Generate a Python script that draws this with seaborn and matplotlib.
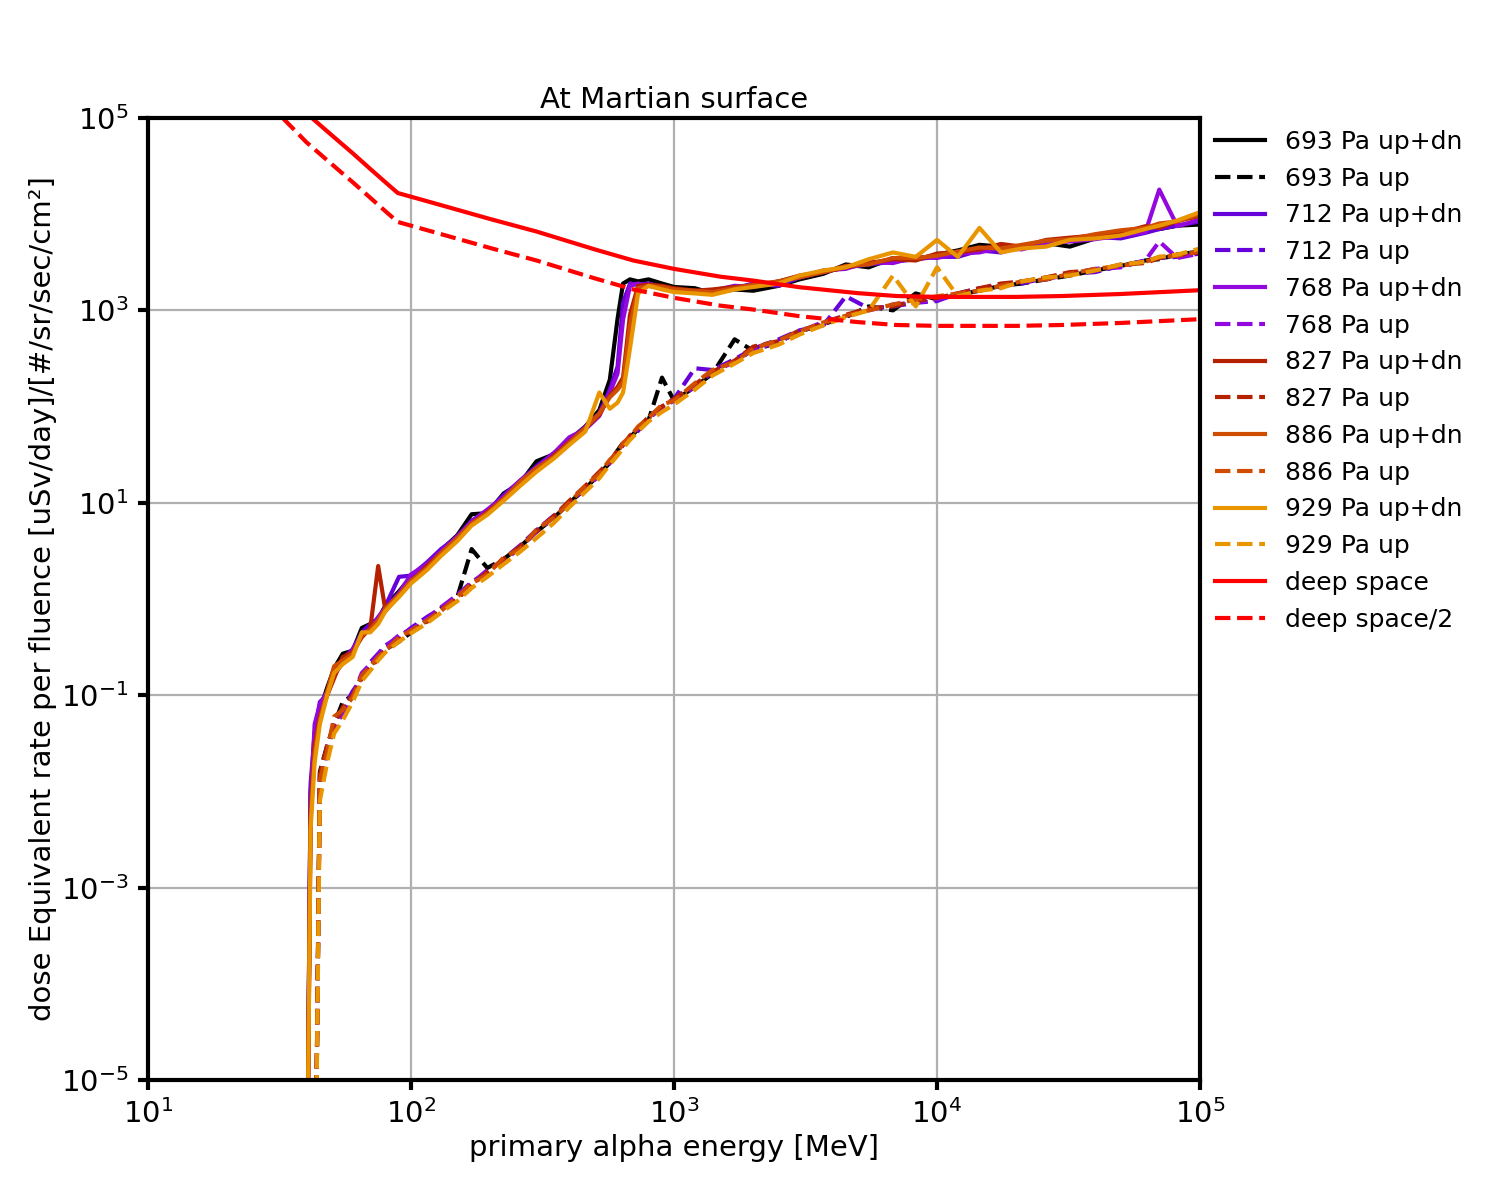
import numpy as np
import matplotlib
matplotlib.use("Agg")
import matplotlib.pyplot as plt
import seaborn as sns

# ---------------- data ----------------
energy = [40, 41.5, 43, 45, 48, 51, 55, 60, 65, 70, 75, 80, 90, 100, 115, 130, 150, 170, 195, 225,
          260, 300, 350, 400, 460, 520, 570, 610, 640, 680, 730, 800, 900, 1000, 1200, 1400, 1700,
          2000, 2500, 3000, 3700, 4500, 5500, 6800, 8300, 1e4, 1.2e4, 1.45e4, 1.75e4, 2.1e4, 2.6e4,
          3.2e4, 4e4, 5e4, 6.2e4, 7e4, 8.2e4, 1e5]

p693_updn = [1e-7, 1.0e-2, 3.0e-2, 7.0e-2, 0.12, 0.19, 0.27, 0.29, 0.5, 0.55, 0.62, 0.85, 1.2, 1.7,
             2.3, 3.2, 4.6, 7.6, 7.8, 12.5, 16, 27, 32, 45, 62, 92, 190, 820, 1.9e3, 2.1e3, 2.0e3,
             2.1e3, 1.9e3, 1.75e3, 1.7e3, 1.5e3, 1.65e3, 1.6e3, 1.8e3, 2.1e3, 2.4e3, 3.0e3, 2.8e3,
             3.5e3, 3.4e3, 3.8e3, 4.2e3, 4.8e3, 4.6e3, 4.5e3, 5.0e3, 4.6e3, 5.6e3, 6.3e3, 6.9e3,
             7.0e3, 7.6e3, 7.8e3]
p693_up = [1e-7, 1e-7, 1e-7, 1.6e-2, 3.0e-2, 5.0e-2, 8.5e-2, 0.1, 0.16, 0.2, 0.25, 0.3, 0.36, 0.45,
           0.6, 0.8, 1.05, 3.3, 2.1, 2.6, 3.5, 5.0, 7.0, 10, 14, 20, 26, 35, 42, 48, 58, 72, 200, 115,
           160, 220, 500, 380, 470, 600, 720, 850, 1.1e3, 1.0e3, 1.5e3, 1.3e3, 1.45e3, 1.6e3, 1.8e3,
           1.9e3, 2.1e3, 2.3e3, 2.6e3, 2.9e3, 3.3e3, 3.4e3, 3.8e3, 4.1e3]
p712_updn = [1e-7, 1.2e-2, 4e-2, 8.5e-2, 0.1, 0.17, 0.24, 0.3, 0.45, 0.55, 0.62, 0.85, 1.7, 1.75,
             2.4, 3.3, 4.4, 6.5, 8.2, 12, 17, 24, 33, 44, 62, 85, 150, 260, 1.2e3, 1.9e3, 1.85e3,
             1.9e3, 1.75e3, 1.6e3, 1.6e3, 1.55e3, 1.7e3, 1.9e3, 1.8e3, 2.2e3, 2.5e3, 2.8e3, 3.0e3,
             3.2e3, 3.4e3, 3.6e3, 3.6e3, 4.2e3, 4.0e3, 4.6e3, 4.8e3, 5.4e3, 5.8e3, 5.6e3, 6.4e3,
             7.0e3, 7.6e3, 8.4e3]
p712_up = [1e-7, 1e-7, 1e-7, 1.2e-2, 2.5e-2, 5.5e-2, 7e-2, 0.11, 0.15, 0.22, 0.27, 0.33, 0.4, 0.5,
           0.65, 0.8, 1.1, 1.5, 1.9, 2.6, 3.6, 5.2, 7.4, 10, 14, 20, 27, 33, 40, 47, 56, 75, 100, 120,
           250, 240, 310, 400, 500, 620, 700, 1.4e3, 1.05e3, 1.1e3, 1.2e3, 1.25e3, 1.5e3, 1.7e3,
           1.8e3, 1.9e3, 2.2e3, 2.4e3, 2.5e3, 2.9e3, 3.3e3, 3.5e3, 3.6e3, 3.9e3]
p768_updn = [1e-7, 8e-3, 5e-2, 8e-2, 0.11, 0.16, 0.22, 0.3, 0.42, 0.5, 0.65, 0.8, 1.15, 1.8, 2.3,
             3.1, 4.5, 6.4, 8.5, 11.5, 17, 23, 33, 48, 58, 80, 140, 220, 800, 1.8e3, 1.9e3, 1.8e3,
             1.7e3, 1.65e3, 1.55e3, 1.6e3, 1.8e3, 1.75e3, 2.0e3, 2.2e3, 2.6e3, 2.7e3, 3.2e3, 3.1e3,
             3.6e3, 3.5e3, 3.9e3, 4.0e3, 4.5e3, 4.3e3, 5.0e3, 5.2e3, 5.5e3, 6.0e3, 6.5e3, 1.8e4,
             7.5e3, 8.8e3]
p768_up = [1e-7, 1e-7, 1e-7, 1.4e-2, 2.8e-2, 4.5e-2, 6.5e-2, 0.1, 0.17, 0.21, 0.26, 0.32, 0.42,
           0.48, 0.62, 0.82, 1.1, 1.45, 2.0, 2.5, 3.4, 5.0, 7.2, 10, 14.5, 19, 26, 33, 41, 48, 60,
           75, 98, 115, 160, 230, 290, 390, 470, 600, 760, 880, 1.0e3, 1.15e3, 1.2e3, 1.3e3,
           1.45e3, 1.65e3, 1.75e3, 2.0e3, 2.1e3, 2.4e3, 2.7e3, 2.8e3, 3.3e3, 5.2e3, 3.5e3, 3.9e3]
p827_updn = [1e-7, 6e-3, 3e-2, 6e-2, 0.1, 0.15, 0.25, 0.28, 0.4, 0.5, 2.2, 0.75, 1.1, 1.5, 2.2,
             3.0, 4.2, 6.0, 8.0, 11, 16, 22, 31, 43, 60, 82, 130, 160, 200, 900, 1.8e3, 1.85e3,
             1.8e3, 1.7e3, 1.6e3, 1.65e3, 1.75e3, 1.8e3, 2.0e3, 2.3e3, 2.5e3, 2.8e3, 3.1e3, 3.4e3,
             3.3e3, 3.9e3, 4.0e3, 4.3e3, 4.9e3, 4.6e3, 5.4e3, 5.7e3, 6.0e3, 6.4e3, 7.5e3, 7.2e3,
             8.5e3, 9.6e3]
p827_up = [1e-7, 1e-7, 1e-7, 1.5e-2, 3e-2, 5e-2, 7.5e-2, 0.1, 0.15, 0.19, 0.24, 0.3, 0.38, 0.46,
           0.58, 0.78, 1.0, 1.4, 1.9, 2.6, 3.5, 5.1, 7.3, 10.5, 15, 21, 27, 35, 40, 50, 60, 78, 100,
           120, 170, 230, 300, 420, 480, 620, 720, 900, 1.05e3, 1.1e3, 1.25e3, 1.35e3, 1.5e3,
           1.7e3, 1.9e3, 2.0e3, 2.2e3, 2.5e3, 2.6e3, 3.0e3, 3.1e3, 3.5e3, 3.8e3, 4.0e3]
p886_updn = [1e-7, 5e-3, 2.5e-2, 5.5e-2, 0.11, 0.2, 0.23, 0.27, 0.42, 0.48, 0.6, 0.8, 1.1, 1.55,
             2.1, 3.0, 4.3, 6.1, 7.8, 11, 16.5, 23, 30, 42, 60, 85, 125, 150, 180, 700, 1.7e3,
             1.8e3, 1.75e3, 1.65e3, 1.6e3, 1.55e3, 1.7e3, 1.85e3, 2.0e3, 2.2e3, 2.5e3, 2.9e3,
             3.0e3, 3.5e3, 3.5e3, 3.7e3, 4.1e3, 4.5e3, 4.4e3, 4.8e3, 5.3e3, 5.5e3, 6.2e3, 6.8e3,
             7.2e3, 8.0e3, 8.4e3, 1.0e4]
p886_up = [1e-7, 1e-7, 1e-7, 1.3e-2, 2.6e-2, 6e-2, 7e-2, 0.095, 0.16, 0.2, 0.25, 0.29, 0.4, 0.47,
           0.6, 0.75, 1.05, 1.45, 1.8, 2.7, 3.3, 5.3, 7.0, 10, 15, 20, 28, 33, 42, 48, 62, 76, 105,
           115, 175, 240, 290, 400, 490, 600, 750, 880, 1.0e3, 1.15e3, 1.3e3, 1.4e3, 1.5e3, 1.6e3,
           1.8e3, 2.0e3, 2.1e3, 2.4e3, 2.7e3, 2.9e3, 3.2e3, 3.6e3, 3.7e3, 4.1e3]
p929_updn = [1e-7, 4e-3, 2e-2, 5e-2, 0.1, 0.17, 0.21, 0.25, 0.45, 0.45, 0.55, 0.75, 1.05, 1.45, 2.0,
             2.8, 4.0, 5.8, 7.5, 10.5, 15, 21, 29, 40, 55, 140, 95, 110, 140, 400, 1.5e3, 1.8e3,
             1.65e3, 1.55e3, 1.5e3, 1.45e3, 1.65e3, 1.75e3, 1.9e3, 2.3e3, 2.6e3, 2.8e3, 3.4e3,
             4.0e3, 3.6e3, 5.4e3, 3.6e3, 7.2e3, 4.0e3, 4.4e3, 4.6e3, 5.4e3, 5.6e3, 6.0e3, 7.0e3,
             7.6e3, 8.6e3, 1.05e4]
p929_up = [1e-7, 1e-7, 1e-7, 8e-3, 2e-2, 4e-2, 5.5e-2, 0.085, 0.14, 0.18, 0.23, 0.28, 0.36, 0.44,
           0.56, 0.72, 0.95, 1.3, 1.7, 2.3, 3.1, 4.3, 6.2, 9, 13, 18, 25, 31, 37, 45, 55, 70, 88,
           105, 150, 210, 280, 360, 440, 560, 700, 850, 1.0e3, 2.3e3, 1.1e3, 2.8e3, 1.4e3, 1.6e3,
           1.7e3, 2.0e3, 2.2e3, 2.3e3, 2.6e3, 3.0e3, 3.2e3, 3.6e3, 3.8e3, 4.4e3]

ds_energy = [20, 30, 40, 50, 60, 70, 80, 89, 120, 200, 300, 500, 700, 1000, 1500, 2000, 3000, 5000,
             7000, 1e4, 2e4, 3e4, 5e4, 1e5]
deep_space = [1.0e6, 2.5e5, 1.12e5, 6.6e4, 4.3e4, 2.95e4, 2.14e4, 1.66e4, 1.32e4, 8.9e3, 6.6e3,
              4.3e3, 3.3e3, 2.7e3, 2.24e3, 2.04e3, 1.74e3, 1.51e3, 1.41e3, 1.38e3, 1.38e3, 1.41e3,
              1.48e3, 1.62e3]
deep_space_half = [5.0e5, 1.25e5, 5.6e4, 3.3e4, 2.15e4, 1.48e4, 1.07e4, 8.3e3, 6.6e3, 4.45e3,
                   3.3e3, 2.15e3, 1.65e3, 1.35e3, 1.12e3, 1.02e3, 870, 755, 705, 690, 690, 705,
                   740, 810]

pressures = ["693", "712", "768", "827", "886", "929"]
updn_series = [p693_updn, p712_updn, p768_updn, p827_updn, p886_updn, p929_updn]
up_series = [p693_up, p712_up, p768_up, p827_up, p886_up, p929_up]

# ---------------- plot ----------------
plt.rcParams.update({"font.family": ["DejaVu Sans"], "font.size": 10.5,
                     "axes.linewidth": 1.5, "lines.linewidth": 1.5})

fig = plt.figure(figsize=(7.5, 6), dpi=200)
ax = fig.add_axes([0.0987, 0.1, 0.7013, 0.8017])
ax.set_xscale("log")
ax.set_yscale("log")

cmap = plt.get_cmap("gnuplot")
for i, p in enumerate(pressures):
    c = cmap(i / 6)
    sns.lineplot(x=energy, y=updn_series[i], ax=ax, color=c, linestyle="-", lw=1.5,
                 label=f"{p} Pa up+dn", estimator=None, sort=False)
    sns.lineplot(x=energy, y=up_series[i], ax=ax, color=c, linestyle="--", lw=1.5,
                 label=f"{p} Pa up", estimator=None, sort=False)
sns.lineplot(x=ds_energy, y=deep_space, ax=ax, color="#ff0000", linestyle="-", lw=1.5,
             label="deep space", estimator=None, sort=False)
sns.lineplot(x=ds_energy, y=deep_space_half, ax=ax, color="#ff0000", linestyle="--", lw=1.5,
             label="deep space/2", estimator=None, sort=False)

ax.set_xlim(10, 1e5)
ax.set_ylim(1e-5, 1e5)
ax.set_xticks([1e1, 1e2, 1e3, 1e4, 1e5])
ax.set_yticks([1e-5, 1e-3, 1e-1, 1e1, 1e3, 1e5])
ax.minorticks_off()
ax.grid(True, color="#b0b0b0", lw=0.8)
ax.tick_params(which="major", width=1.5, length=3.5, labelsize=10.5)
for s in ax.spines.values():
    s.set_linewidth(1.5)
    s.set_color("black")

ax.set_title("At Martian surface", fontsize=10.5, pad=3.5)
ax.set_xlabel("primary alpha energy [MeV]", fontsize=10.5, labelpad=1.5)
ax.set_ylabel("dose Equivalent rate per fluence [uSv/day]/[#/sr/sec/cm²]", fontsize=10.5,
              labelpad=1.5)

handles, labels = ax.get_legend_handles_labels()
ax.legend(handles, labels, loc="upper left", bbox_to_anchor=(1.005, 0.998), borderaxespad=0.0,
          frameon=False, fontsize=9, labelspacing=0.51)

fig.savefig("out.png", dpi=200)
